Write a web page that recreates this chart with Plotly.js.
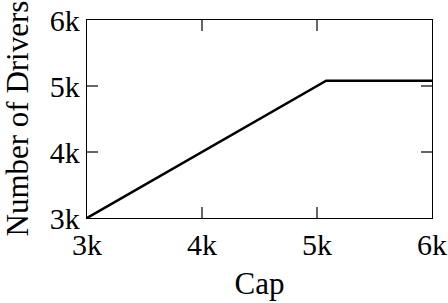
<!DOCTYPE html>
<html><head><meta charset="utf-8">
<script src="https://cdn.plot.ly/plotly-3.0.1.min.js"></script>
<style>html,body{margin:0;padding:0;background:#fff}#c{width:448px;height:303px}</style>
</head><body><div id="c"></div>
<script>
const capValues = [3000, 5080, 6000];
const driverCounts = [3000, 5080, 5080];
const tickVals = [3000, 4000, 5000, 6000];
const tickLabels = ['3k', '4k', '5k', '6k'];

const fontFam = '"Liberation Serif", "DejaVu Serif", serif';
function axis(extra) {
  return Object.assign({
    range: [3000, 6000],
    tickmode: 'array', tickvals: tickVals, ticktext: tickLabels,
    ticks: 'inside', ticklen: 11, tickcolor: '#666666', tickwidth: 1.5,
    showline: true, linecolor: '#000', linewidth: 1.2, mirror: 'ticks',
    showgrid: false, zeroline: false,
    tickfont: {family: fontFam, size: 30, color: '#000'}
  }, extra);
}
Plotly.newPlot('c', [{
  x: capValues, y: driverCounts, type: 'scatter', mode: 'lines',
  line: {color: '#000', width: 2.5}, hoverinfo: 'skip'
}], {
  width: 448, height: 303,
  margin: {l: 87, r: 16, t: 20, b: 85},
  paper_bgcolor: '#fff', plot_bgcolor: '#fff',
  showlegend: false,
  xaxis: axis({title: {text: 'Cap', font: {family: fontFam, size: 31, color: '#000'}, standoff: 12}}),
  yaxis: axis({}),
  annotations: [{
    text: 'Number of Drivers', xref: 'paper', yref: 'paper',
    x: -70.5 / 345, y: 0.5, xanchor: 'center', yanchor: 'middle',
    textangle: -90, showarrow: false,
    font: {family: fontFam, size: 31, color: '#000'}
  }]
}, {staticPlot: true});
</script></body></html>
